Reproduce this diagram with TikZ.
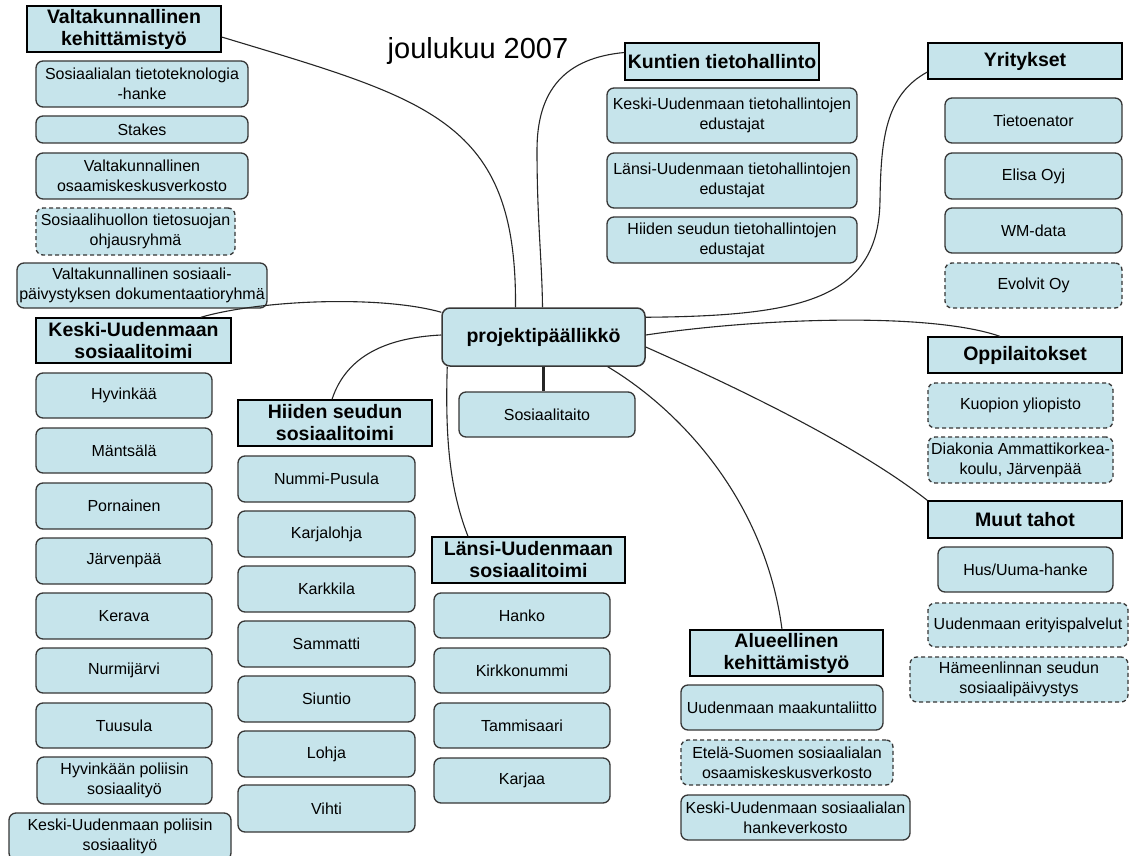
\documentclass[tikz,border=0pt]{standalone}
\usepackage{fontspec}
\setmainfont{Liberation Sans}
\definecolor{boxfill}{RGB}{198,228,235}
\definecolor{boxline}{RGB}{55,55,55}
\tikzset{
  boxbase/.style={fill=boxfill, inner sep=0pt, align=center},
  sub/.style={boxbase, draw=boxline, line width=1.3pt, rounded corners=7pt, font=\fontsize{16}{20}\selectfont},
  subd/.style={sub, dash pattern=on 4pt off 3pt},
  hdr/.style={boxbase, draw=black, line width=1.3pt, font=\bfseries\fontsize{19.5}{22}\selectfont},
  ctr/.style={boxbase, draw=boxline, line width=1.5pt, rounded corners=8pt, font=\bfseries\fontsize{19.5}{22}\selectfont},
  conn/.style={draw=black!85, line width=1.1pt},
}
\newcommand\bx[7]{\node[#2, minimum width={#5-#3}, minimum height={#6-#4}] (#1) at ({(#3+#5)/2},{(#4+#6)/2}) {#7};}
\begin{document}
\begin{tikzpicture}[x=1pt,y=-1pt]
\useasboundingbox (0,0) rectangle (1130,856);
\fill[white] (0,0) rectangle (1130,856);
\clip (0,0) rectangle (1130,856);

\node[font=\fontsize{29}{34}\selectfont, anchor=base] (date) at (478,59) {joulukuu 2007};

% Valtakunnallinen
\bx{vk}{hdr}{27}{6}{221}{52}{Valtakunnallinen\\kehittämistyö}
\bx{v1}{sub}{36}{61}{248}{107}{Sosiaalialan tietoteknologia\\-hanke}
\bx{v2}{sub}{36}{116}{248}{143}{Stakes}
\bx{v3}{sub}{36}{153}{248}{199}{Valtakunnallinen\\osaamiskeskusverkosto}
\bx{v4}{subd}{36}{208}{235}{255}{Sosiaalihuollon tietosuojan\\ohjausryhmä}
\bx{v5}{sub}{17}{263}{267}{308}{Valtakunnallinen sosiaali-\\päivystyksen dokumentaatioryhmä}

% Kuntien tietohallinto
\bx{kt}{hdr}{625}{43}{819}{80}{Kuntien tietohallinto}
\bx{k1}{sub}{607}{88}{857}{143}{Keski-Uudenmaan tietohallintojen\\edustajat}
\bx{k2}{sub}{607}{153}{857}{208}{Länsi-Uudenmaan tietohallintojen\\edustajat}
\bx{k3}{sub}{607}{217}{857}{263}{Hiiden seudun tietohallintojen\\edustajat}

% Yritykset
\bx{yr}{hdr}{928}{43}{1122}{79}{Yritykset}
\bx{y1}{sub}{945}{98}{1122}{143}{Tietoenator}
\bx{y2}{sub}{945}{153}{1122}{199}{Elisa Oyj}
\bx{y3}{sub}{945}{208}{1122}{253}{WM-data}
\bx{y4}{subd}{945}{263}{1122}{308}{Evolvit Oy}

% centre
\bx{pp}{ctr}{442}{308}{645}{366}{projektipäällikkö}
\bx{st}{sub}{459}{392}{635}{437}{Sosiaalitaito}

% Oppilaitokset
\bx{op}{hdr}{928}{337}{1122}{373}{Oppilaitokset}
\bx{o1}{subd}{928}{383}{1113}{428}{Kuopion yliopisto}
\bx{o2}{subd}{928}{437}{1113}{483}{Diakonia Ammattikorkea-\\koulu, Järvenpää}

% Muut tahot
\bx{mt}{hdr}{928}{501}{1122}{538}{Muut tahot}
\bx{m1}{sub}{938}{547}{1113}{592}{Hus/Uuma-hanke}
\bx{m2}{subd}{928}{603}{1128}{647}{Uudenmaan erityispalvelut}
\bx{m3}{subd}{910}{657}{1128}{702}{Hämeenlinnan seudun\\sosiaalipäivystys}

% Alueellinen
\bx{al}{hdr}{690}{630}{883}{676}{Alueellinen\\kehittämistyö}
\bx{a1}{sub}{681}{685}{883}{730}{Uudenmaan maakuntaliitto}
\bx{a2}{subd}{681}{740}{893}{785}{Etelä-Suomen sosiaalialan\\osaamiskeskusverkosto}
\bx{a3}{sub}{681}{795}{910}{840}{Keski-Uudenmaan sosiaalialan\\hankeverkosto}

% Keski-Uudenmaan sosiaalitoimi
\bx{ku}{hdr}{36}{318}{231}{363}{Keski-Uudenmaan\\sosiaalitoimi}
\bx{c1}{sub}{36}{373}{212}{418}{Hyvinkää}
\bx{c2}{sub}{36}{428}{212}{473}{Mäntsälä}
\bx{c3}{sub}{36}{483}{212}{529}{Pornainen}
\bx{c4}{sub}{36}{538}{212}{584}{Järvenpää}
\bx{c5}{sub}{36}{593}{212}{639}{Kerava}
\bx{c6}{sub}{36}{648}{212}{693}{Nurmijärvi}
\bx{c7}{sub}{36}{703}{212}{748}{Tuusula}
\bx{c8}{sub}{37}{757}{212}{804}{Hyvinkään poliisin\\sosiaalityö}
\bx{c9}{sub}{9}{813}{231}{860}{Keski-Uudenmaan poliisin\\sosiaalityö}

% Hiiden seudun sosiaalitoimi
\bx{hs}{hdr}{238}{400}{432}{446}{Hiiden seudun\\sosiaalitoimi}
\bx{h1}{sub}{238}{456}{415}{502}{Nummi-Pusula}
\bx{h2}{sub}{238}{511}{415}{557}{Karjalohja}
\bx{h3}{sub}{238}{566}{415}{612}{Karkkila}
\bx{h4}{sub}{238}{621}{415}{667}{Sammatti}
\bx{h5}{sub}{238}{676}{415}{722}{Siuntio}
\bx{h6}{sub}{238}{731}{415}{777}{Lohja}
\bx{h7}{sub}{238}{785}{415}{832}{Vihti}

% Länsi-Uudenmaan sosiaalitoimi
\bx{lu}{hdr}{432}{537}{625}{583}{Länsi-Uudenmaan\\sosiaalitoimi}
\bx{l1}{sub}{434}{593}{610}{638}{Hanko}
\bx{l2}{sub}{434}{648}{610}{693}{Kirkkonummi}
\bx{l3}{sub}{434}{703}{610}{748}{Tammisaari}
\bx{l4}{sub}{434}{758}{610}{803}{Karjaa}

% connectors
\draw[conn] ([yshift=-8pt]vk.east) .. controls (430,100) and (517,120) .. ([xshift=-28pt]pp.north);
\draw[conn] ([yshift=9pt]kt.west) .. controls (565,58) and (537,90) .. (537,150) .. controls (537,220) and (542,260) .. ([xshift=-1pt]pp.north);
\draw[conn] ([yshift=-11pt]yr.west) .. controls (885,95) and (881,140) .. (880,200) .. controls (879,300) and (800,316) .. ([yshift=-10pt]pp.north east);
\draw[conn] ([yshift=2pt]pp.east) .. controls (760,318) and (930,312) .. ([xshift=-25pt]op.north);
\draw[conn] ([yshift=-10pt]pp.east) .. controls (720,380) and (850,440) .. (mt.north west);
\draw[conn] ([xshift=-38pt]pp.south east) .. controls (680,410) and (765,500) .. ([xshift=-4.5pt]al.north);
\draw[conn] ([xshift=6pt]pp.south west) .. controls (445,440) and (450,490) .. ([xshift=-60.5pt]lu.north);
\draw[conn] ([xshift=-3pt]hs.north) .. controls (345,360) and (380,338) .. ([yshift=2pt]pp.west);
\draw[conn] ([xshift=-31pt]ku.north east) .. controls (260,300) and (380,295) .. ([yshift=-5pt]pp.north west);
\draw[line width=2.5pt, black!85] (pp.south) -- (pp.south |- st.north);
\end{tikzpicture}
\end{document}
